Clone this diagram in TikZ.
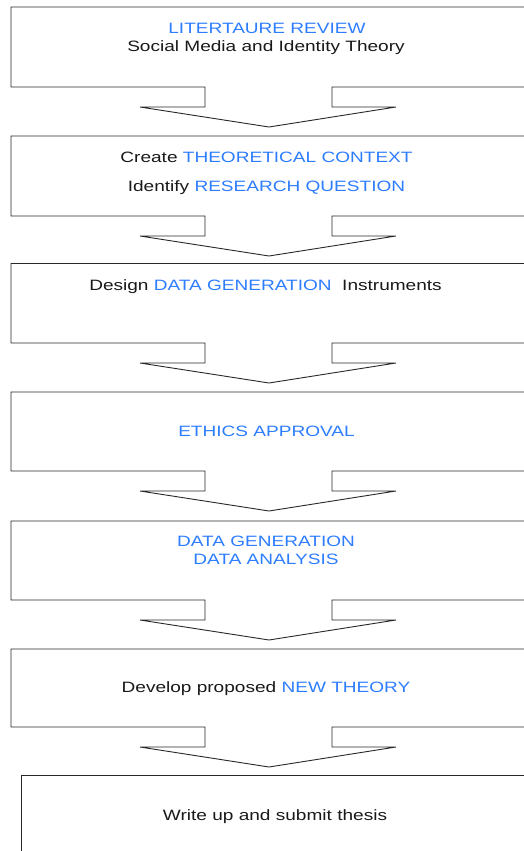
\documentclass[tikz,border=0pt]{standalone}
\usepackage{fontspec}
\setmainfont[FakeStretch=1.27]{Liberation Sans}
\definecolor{hlblue}{RGB}{45,125,255}
\definecolor{edge}{RGB}{40,40,40}
\newcommand{\hl}[1]{\textcolor{hlblue}{#1}}
\begin{document}
\begin{tikzpicture}[x=1pt,y=-1pt,
  boxline/.style={draw=edge,line width=0.9pt,line join=miter},
  label/.style={anchor=base,inner sep=0pt,font=\fontsize{15}{17}\selectfont,text=black!90}]
\useasboundingbox (0,0) rectangle (523,851);
\fill[white] (0,0) rectangle (523,851);
% boxes with block arrows below
\foreach \t/\b in {7/87,136/216,263.5/343,392/471,521/600,649/727}{
  \draw[boxline] (11,\t) -- (540,\t) -- (540,\b) -- (332,\b) -- (332,\b+20) -- (396,\b+20)
     -- (269,\b+40) -- (140,\b+20) -- (205,\b+20) -- (205,\b) -- (11,\b) -- cycle;
}
\draw[boxline] (21,860) -- (21,775) -- (540,775);
% texts
\node[label] (t1a) at (267,33.3) {\hl{LITERTAURE REVIEW}};
\node[label] (t1b) at (266,51.7) {Social Media and Identity Theory};
\node[label] (t2a) at (266.5,162.3) {Create \hl{THEORETICAL CONTEXT}};
\node[label] (t2b) at (266.5,191) {Identify \hl{RESEARCH QUESTION}};
\node[label] (t3) at (265.5,290) {Design \hl{DATA GENERATION}\hspace{0.35em} Instruments};
\node[label] (t4) at (266.5,436) {\hl{ETHICS APPROVAL}};
\node[label] (t5a) at (266,546.7) {\hl{DATA GENERATION}};
\node[label] (t5b) at (266,564.3) {\hl{DATA ANALYSIS}};
\node[label] (t6) at (266,692.7) {Develop proposed \hl{NEW THEORY}};
\node[label] (t7) at (275,820.7) {Write up and submit thesis};
\end{tikzpicture}
\end{document}
